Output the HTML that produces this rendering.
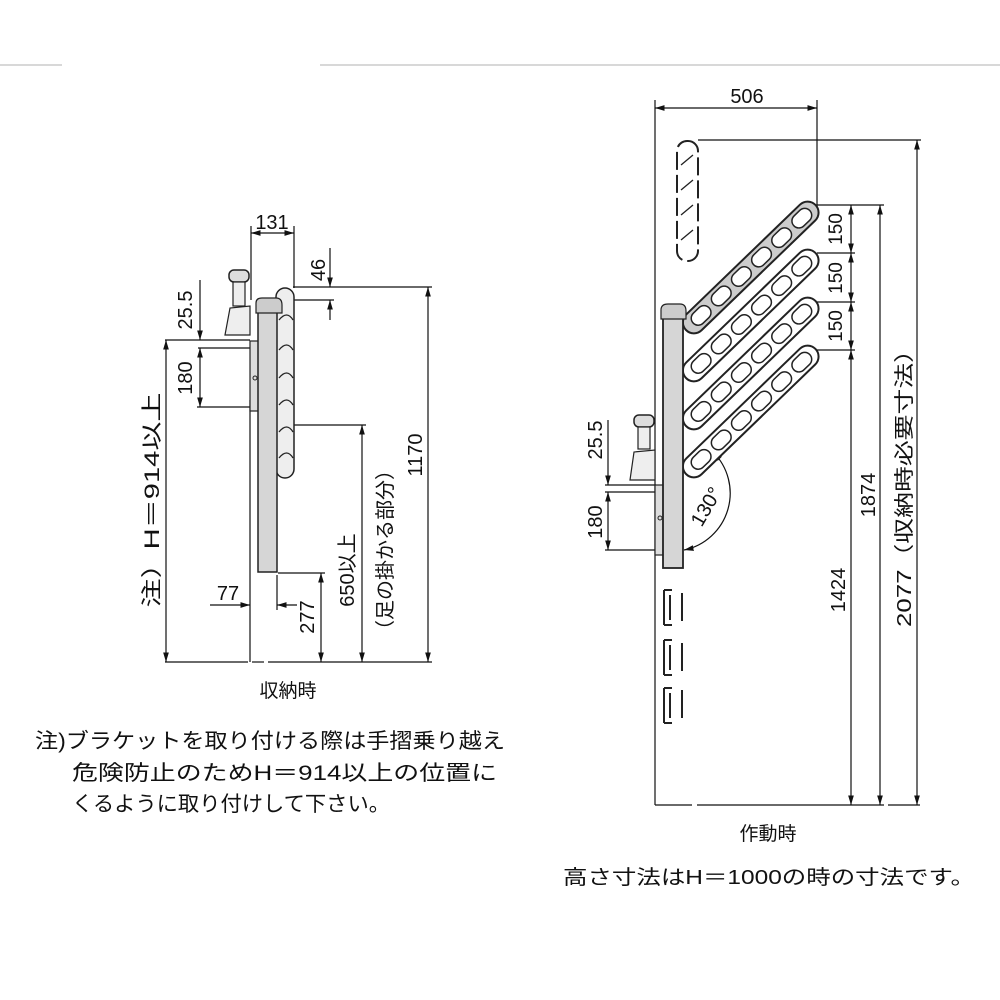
<!DOCTYPE html>
<html><head><meta charset="utf-8"><style>
html,body{margin:0;padding:0;background:#fff}
svg{display:block}
text{font-family:"Liberation Sans","Noto Sans CJK JP",sans-serif;fill:#111}
</style></head><body>
<svg width="1000" height="1000" viewBox="0 0 1000 1000" xmlns="http://www.w3.org/2000/svg">
<defs>
<marker id="a" viewBox="0 0 10 10" refX="10" refY="5" markerWidth="8" markerHeight="8" orient="auto-start-reverse"><path d="M0,2 L10,5 L0,8 z" fill="#111"/></marker>
<g id="arm">
<rect x="0" y="-11" width="180" height="22" rx="11" fill="#fff" stroke="#222" stroke-width="2"/>
<rect x="10" y="-7" width="22" height="14" rx="7" fill="none" stroke="#222" stroke-width="1.5"/>
<rect x="38" y="-7" width="22" height="14" rx="7" fill="none" stroke="#222" stroke-width="1.5"/>
<rect x="66" y="-7" width="22" height="14" rx="7" fill="none" stroke="#222" stroke-width="1.5"/>
<rect x="94" y="-7" width="22" height="14" rx="7" fill="none" stroke="#222" stroke-width="1.5"/>
<rect x="122" y="-7" width="22" height="14" rx="7" fill="none" stroke="#222" stroke-width="1.5"/>
<rect x="150" y="-7" width="22" height="14" rx="7" fill="none" stroke="#222" stroke-width="1.5"/>
</g>
</defs>
<line x1="0" y1="65" x2="62" y2="65" stroke="#ccc" stroke-width="1.5"/>
<line x1="320" y1="65" x2="1000" y2="65" stroke="#ccc" stroke-width="1.5"/>

<!-- LEFT -->
<g stroke="#111" stroke-width="1.2" fill="none">
<line x1="251" y1="226" x2="251" y2="300"/><line x1="294" y1="226" x2="294" y2="288"/>
<line x1="251" y1="233" x2="294" y2="233" marker-start="url(#a)" marker-end="url(#a)"/>
<line x1="293" y1="287" x2="432" y2="287"/><line x1="293" y1="300" x2="334" y2="300"/>
<line x1="330" y1="248" x2="330" y2="287" marker-end="url(#a)"/>
<line x1="330" y1="320" x2="330" y2="300" marker-end="url(#a)"/>
<line x1="428" y1="287" x2="428" y2="662" marker-start="url(#a)" marker-end="url(#a)"/>
<line x1="200" y1="280" x2="200" y2="340" marker-end="url(#a)"/>
<line x1="200" y1="348" x2="200" y2="407" marker-start="url(#a)" marker-end="url(#a)"/>
<line x1="165" y1="340" x2="250" y2="340"/><line x1="198" y1="348" x2="250" y2="348"/>
<line x1="197" y1="407" x2="250" y2="407"/>
<line x1="166" y1="340" x2="166" y2="662" marker-start="url(#a)" marker-end="url(#a)"/>
<line x1="293" y1="425" x2="366" y2="425"/>
<line x1="362" y1="425" x2="362" y2="662" marker-start="url(#a)" marker-end="url(#a)"/>
<line x1="278" y1="573" x2="325" y2="573"/>
<line x1="321" y1="573" x2="321" y2="662" marker-start="url(#a)" marker-end="url(#a)"/>
<line x1="250" y1="400" x2="250" y2="662"/><line x1="277" y1="575" x2="277" y2="610"/>
<line x1="210" y1="605" x2="250" y2="605" marker-end="url(#a)"/>
<line x1="297" y1="605" x2="277" y2="605" marker-end="url(#a)"/>
<line x1="165" y1="662" x2="248" y2="662"/><line x1="252" y1="662" x2="264" y2="662"/><line x1="268" y1="662" x2="432" y2="662"/>
</g>
<rect x="229" y="270" width="20" height="12" rx="5" fill="#ddd" stroke="#222" stroke-width="1.5"/>
<rect x="233" y="282" width="12" height="24" fill="#eee" stroke="#222" stroke-width="1.2"/>
<path d="M225,335 L230,308 L250,306 L250,335 Z" fill="#eee" stroke="#222" stroke-width="1.2"/>
<rect x="250" y="341" width="12" height="70" fill="#ddd" stroke="#222" stroke-width="1.2"/>
<rect x="276" y="288" width="18" height="190" rx="9" fill="#eee" stroke="#222" stroke-width="1.5"/>
<g fill="none" stroke="#222" stroke-width="1.3">
<path d="M279,320 q8,-10 14,0"/><path d="M279,350 q8,-10 14,0"/><path d="M279,378 q8,-10 14,0"/><path d="M279,405 q8,-10 14,0"/><path d="M279,432 q8,-10 14,0"/><path d="M279,458 q8,-10 14,0"/>
</g>
<rect x="258" y="312" width="19" height="260" fill="#d6d6d6" stroke="#222" stroke-width="1.5"/>
<path d="M256,303 q0,-5 6,-5 l14,0 q6,0 6,7 l0,8 l-26,0 z" fill="#ccc" stroke="#222" stroke-width="1.2"/>
<circle cx="255" cy="378" r="2" fill="none" stroke="#222"/>
<text x="272" y="229" font-size="20" text-anchor="middle">131</text>
<text transform="translate(325,270) rotate(-90)" font-size="20" text-anchor="middle">46</text>
<text transform="translate(192,310) rotate(-90)" font-size="20" text-anchor="middle">25.5</text>
<text transform="translate(192,378) rotate(-90)" font-size="20" text-anchor="middle">180</text>
<text transform="translate(159,500) rotate(-90)" font-size="21" text-anchor="middle" textLength="215" lengthAdjust="spacingAndGlyphs">注）H＝914以上</text>
<text x="228" y="600" font-size="20" text-anchor="middle">77</text>
<text transform="translate(314,617) rotate(-90)" font-size="20" text-anchor="middle">277</text>
<text transform="translate(354,570) rotate(-90)" font-size="20" text-anchor="middle">650以上</text>
<text transform="translate(392,550) rotate(-90)" font-size="20" text-anchor="middle">（足の掛かる部分）</text>
<text transform="translate(422,455) rotate(-90)" font-size="20" text-anchor="middle">1170</text>
<text x="288" y="697" font-size="19" text-anchor="middle">収納時</text>
<text x="35" y="748" font-size="21" textLength="470" lengthAdjust="spacingAndGlyphs">注)ブラケットを取り付ける際は手摺乗り越え</text>
<text x="72" y="780" font-size="21" textLength="425" lengthAdjust="spacingAndGlyphs">危険防止のためH＝914以上の位置に</text>
<text x="72" y="811" font-size="21" textLength="318" lengthAdjust="spacingAndGlyphs">くるように取り付けして下さい。</text>

<!-- RIGHT -->
<g stroke="#111" stroke-width="1.2" fill="none">
<line x1="655" y1="100" x2="655" y2="805"/><line x1="817" y1="100" x2="817" y2="207"/>
<line x1="655" y1="108" x2="817" y2="108" marker-start="url(#a)" marker-end="url(#a)"/>
<line x1="698" y1="140" x2="921" y2="140"/>
<line x1="917" y1="140" x2="917" y2="805" marker-start="url(#a)" marker-end="url(#a)"/>
<line x1="817" y1="205" x2="884" y2="205"/>
<line x1="880" y1="205" x2="880" y2="805" marker-start="url(#a)" marker-end="url(#a)"/>
<line x1="817" y1="253" x2="855" y2="253"/><line x1="817" y1="302" x2="855" y2="302"/><line x1="817" y1="350" x2="855" y2="350"/>
<line x1="851" y1="205" x2="851" y2="253" marker-start="url(#a)" marker-end="url(#a)"/>
<line x1="851" y1="253" x2="851" y2="302" marker-start="url(#a)" marker-end="url(#a)"/>
<line x1="851" y1="302" x2="851" y2="350" marker-start="url(#a)" marker-end="url(#a)"/>
<line x1="851" y1="350" x2="851" y2="805" marker-start="url(#a)" marker-end="url(#a)"/>
<line x1="608" y1="420" x2="608" y2="485" marker-end="url(#a)"/>
<line x1="608" y1="492" x2="608" y2="550" marker-start="url(#a)" marker-end="url(#a)"/>
<line x1="605" y1="485" x2="656" y2="485"/><line x1="605" y1="492" x2="656" y2="492"/><line x1="605" y1="550" x2="656" y2="550"/>
<line x1="655" y1="805" x2="692" y2="805"/><line x1="697" y1="805" x2="884" y2="805"/><line x1="888" y1="805" x2="920" y2="805"/>
<path d="M713,452 A58,58 0 0 1 684,550" marker-start="url(#a)" marker-end="url(#a)"/>
</g>
<g fill="none" stroke="#222" stroke-width="2">
<rect x="677" y="141" width="21" height="120" rx="10" stroke-dasharray="18,5"/>
<path d="M681,165 l12,-10 M681,190 l12,-10 M681,215 l12,-10 M681,240 l12,-10" stroke-width="1.3"/>
</g>
<rect x="634" y="415" width="20" height="12" rx="5" fill="#ddd" stroke="#222" stroke-width="1.5"/>
<rect x="638" y="427" width="12" height="22" fill="#eee" stroke="#222" stroke-width="1.2"/>
<path d="M630,480 L634,452 L655,450 L655,480 Z" fill="#eee" stroke="#222" stroke-width="1.2"/>
<use href="#arm" transform="translate(686,474) rotate(-44)"/>
<use href="#arm" transform="translate(686,426) rotate(-44)"/>
<use href="#arm" transform="translate(686,378) rotate(-44)"/>
<g transform="translate(686,330) rotate(-44)">
<rect x="0" y="-11" width="180" height="22" rx="11" fill="#ccc" stroke="#222" stroke-width="2"/>
<rect x="10" y="-7" width="22" height="14" rx="7" fill="#fff" stroke="#222" stroke-width="1.5"/>
<rect x="38" y="-7" width="22" height="14" rx="7" fill="#fff" stroke="#222" stroke-width="1.5"/>
<rect x="66" y="-7" width="22" height="14" rx="7" fill="#fff" stroke="#222" stroke-width="1.5"/>
<rect x="94" y="-7" width="22" height="14" rx="7" fill="#fff" stroke="#222" stroke-width="1.5"/>
<rect x="122" y="-7" width="22" height="14" rx="7" fill="#fff" stroke="#222" stroke-width="1.5"/>
<rect x="150" y="-7" width="22" height="14" rx="7" fill="#fff" stroke="#222" stroke-width="1.5"/>
</g>
<rect x="655" y="485" width="10" height="70" fill="#ddd" stroke="#222" stroke-width="1.2"/>
<rect x="663" y="318" width="20" height="250" fill="#d6d6d6" stroke="#222" stroke-width="1.8"/>
<path d="M661,310 q0,-6 7,-6 l12,0 q6,0 6,7 l0,8 l-25,0 z" fill="#ccc" stroke="#222" stroke-width="1.2"/>
<circle cx="660" cy="518" r="2" fill="none" stroke="#222"/>
<g stroke="#222" stroke-width="2" fill="none">
<path d="M664,590 v35 M664,640 v35 M664,688 v35 M682,593 v28 M682,643 v28 M682,690 v28 M664,590 h8 M664,625 h8 M664,640 h8 M664,675 h8 M664,688 h8 M664,723 h8 M670,595 v25 M670,645 v25 M670,693 v25"/>
</g>
<text x="747" y="103" font-size="20" text-anchor="middle">506</text>
<text transform="translate(842,229) rotate(-90)" font-size="19" text-anchor="middle">150</text>
<text transform="translate(842,278) rotate(-90)" font-size="19" text-anchor="middle">150</text>
<text transform="translate(842,326) rotate(-90)" font-size="19" text-anchor="middle">150</text>
<text transform="translate(602,440) rotate(-90)" font-size="20" text-anchor="middle">25.5</text>
<text transform="translate(602,522) rotate(-90)" font-size="20" text-anchor="middle">180</text>
<text transform="translate(712,510) rotate(-60)" font-size="20" text-anchor="middle">130°</text>
<text transform="translate(845,590) rotate(-90)" font-size="20" text-anchor="middle">1424</text>
<text transform="translate(875,495) rotate(-90)" font-size="20" text-anchor="middle">1874</text>
<text transform="translate(911,482) rotate(-90)" font-size="20" text-anchor="middle" textLength="290" lengthAdjust="spacingAndGlyphs">2077（収納時必要寸法）</text>
<text x="768" y="840" font-size="19" text-anchor="middle">作動時</text>
<text x="563" y="884" font-size="20" textLength="412" lengthAdjust="spacingAndGlyphs">高さ寸法はH＝1000の時の寸法です。</text>
</svg>
</body></html>
